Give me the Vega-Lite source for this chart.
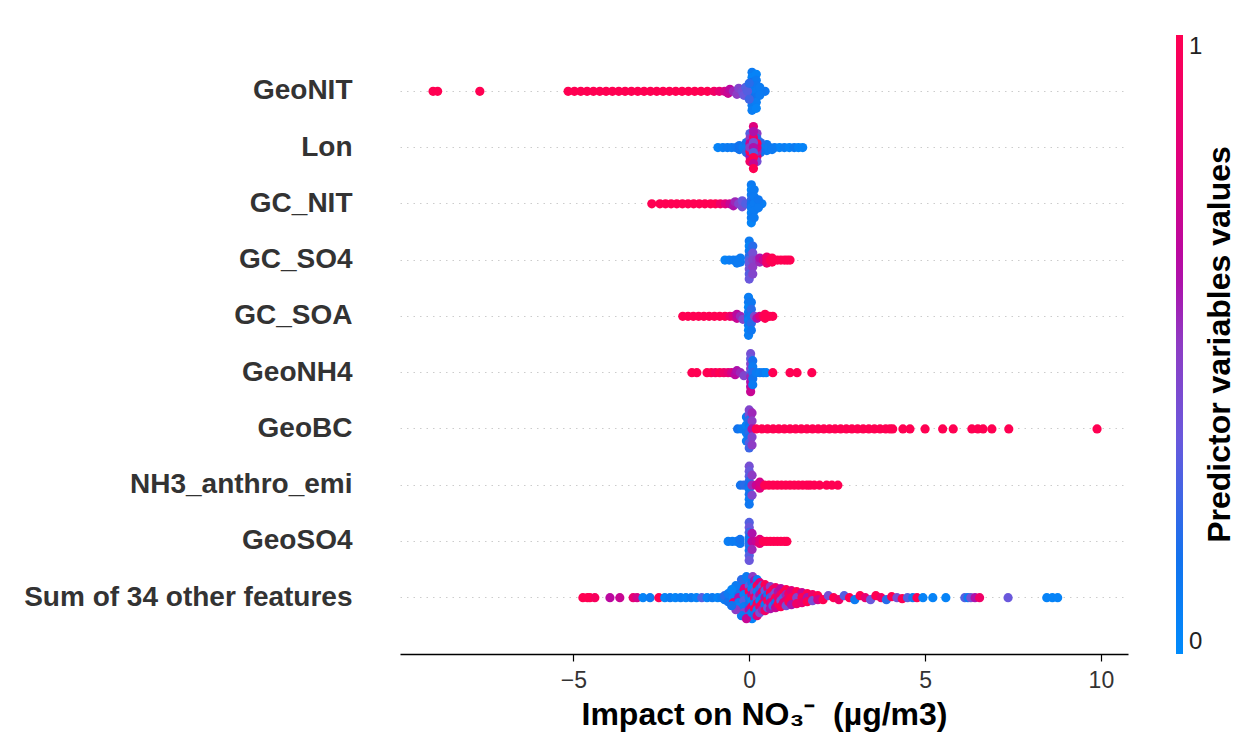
{
 "$schema": "https://vega.github.io/schema/vega-lite/v6.json",
 "width": 728, "height": 619,
 "autosize": {"type": "none"},
 "padding": {"left": 400, "top": 35, "right": 114, "bottom": 95},
 "background": "white",
 "title": {"text": "Predictor variables values", "orient": "right", "angle": -90, "baseline": "top", "anchor": "middle", "frame": "group", "offset": -30, "fontSize": 32, "fontWeight": "bold", "color": "#000000", "font": "Liberation Sans"},
 "config": {
  "font": "Liberation Sans",
  "view": {"stroke": null},
  "axisX": {"domainColor": "#000000", "domainWidth": 1.4, "tickColor": "#000000", "tickSize": 7, "tickWidth": 1.2, "labelFontSize": 23, "labelColor": "#333333", "labelPadding": 8, "titleFontSize": 32, "titleFontWeight": "bold", "titleColor": "#000000", "titlePadding": 7, "grid": false},
  "axisY": {"domain": false, "ticks": false, "labelFontSize": 28, "labelFontWeight": "bold", "labelColor": "#333333", "labelPadding": 48, "labelLimit": 400, "grid": true, "gridColor": "#cccccc", "gridDash": [1.5, 5], "gridWidth": 1, "bandPosition": 0.5}
 },
 "datasets": {
  "features": [
   {"r": 1, "name": "GeoNIT"}, {"r": 2, "name": "Lon"}, {"r": 3, "name": "GC_NIT"}, {"r": 4, "name": "GC_SO4"}, {"r": 5, "name": "GC_SOA"},
   {"r": 6, "name": "GeoNH4"}, {"r": 7, "name": "GeoBC"}, {"r": 8, "name": "NH3_anthro_emi"}, {"r": 9, "name": "GeoSO4"}, {"r": 10, "name": "Sum of 34 other features"}
  ],
  "points": [
   {"r":1,"x":-8.99,"o":0,"c":1},{"r":1,"x":-8.86,"o":0,"c":1},{"r":1,"x":-7.66,"o":0,"c":1},
   {"r":1,"x":-5.15,"o":0,"c":1},{"r":1,"x":-4.97,"o":0,"c":1},{"r":1,"x":-4.79,"o":0,"c":1},{"r":1,"x":-4.61,"o":0,"c":1},{"r":1,"x":-4.43,"o":0,"c":1},{"r":1,"x":-4.25,"o":0,"c":1},{"r":1,"x":-4.07,"o":0,"c":1},{"r":1,"x":-3.89,"o":0,"c":1},{"r":1,"x":-3.71,"o":0,"c":1},{"r":1,"x":-3.53,"o":0,"c":1},{"r":1,"x":-3.35,"o":0,"c":1},{"r":1,"x":-3.17,"o":0,"c":1},{"r":1,"x":-2.99,"o":0,"c":1},{"r":1,"x":-2.81,"o":0,"c":1},{"r":1,"x":-2.63,"o":0,"c":1},{"r":1,"x":-2.45,"o":0,"c":1},{"r":1,"x":-2.27,"o":0,"c":1},{"r":1,"x":-2.09,"o":0,"c":1},{"r":1,"x":-1.91,"o":0,"c":1},{"r":1,"x":-1.73,"o":0,"c":1},{"r":1,"x":-1.55,"o":0,"c":1},{"r":1,"x":-1.37,"o":0,"c":1},{"r":1,"x":-1.19,"o":0,"c":1},
   {"r":1,"x":-1.0,"o":0,"c":0.92},{"r":1,"x":-0.85,"o":0,"c":0.85},{"r":1,"x":-0.7,"o":0,"c":0.75},{"r":1,"x":-0.6,"o":2,"c":0.7},{"r":1,"x":-0.55,"o":-2,"c":0.65},{"r":1,"x":-0.45,"o":0,"c":0.55},{"r":1,"x":-0.35,"o":3,"c":0.5},{"r":1,"x":-0.3,"o":-3,"c":0.45},{"r":1,"x":-0.2,"o":0,"c":0.4},{"r":1,"x":-0.15,"o":4,"c":0.35},{"r":1,"x":-0.1,"o":-4,"c":0.3},
   {"r":1,"x":0.08,"o":-19,"c":0.1},{"r":1,"x":0.08,"o":-14,"c":0.05},{"r":1,"x":0.08,"o":-9,"c":0.15},{"r":1,"x":0.08,"o":-4,"c":0.2},{"r":1,"x":0.08,"o":0,"c":0.1},{"r":1,"x":0.08,"o":4,"c":0.15},{"r":1,"x":0.08,"o":9,"c":0.05},{"r":1,"x":0.08,"o":14,"c":0.1},{"r":1,"x":0.08,"o":19,"c":0.08},
   {"r":1,"x":0.2,"o":-17,"c":0.05},{"r":1,"x":0.2,"o":-11,"c":0.1},{"r":1,"x":0.2,"o":-6,"c":0.12},{"r":1,"x":0.2,"o":0,"c":0.1},{"r":1,"x":0.2,"o":6,"c":0.15},{"r":1,"x":0.2,"o":11,"c":0.08},{"r":1,"x":0.2,"o":17,"c":0.05},
   {"r":1,"x":0.35,"o":0,"c":0.1},{"r":1,"x":0.45,"o":0,"c":0.12},{"r":1,"x":0.3,"o":-4,"c":0.1},{"r":1,"x":0.3,"o":4,"c":0.1},{"r":1,"x":-0.05,"o":0,"c":0.3},{"r":1,"x":0.0,"o":8,"c":0.25},{"r":1,"x":0.0,"o":-8,"c":0.2},

   {"r":2,"x":-0.89,"o":0,"c":0.05},{"r":2,"x":-0.75,"o":0,"c":0.08},{"r":2,"x":-0.62,"o":0,"c":0.1},{"r":2,"x":-0.5,"o":0,"c":0.1},{"r":2,"x":-0.38,"o":0,"c":0.12},{"r":2,"x":-0.28,"o":2,"c":0.15},{"r":2,"x":-0.28,"o":-2,"c":0.15},
   {"r":2,"x":0.45,"o":0,"c":0.1},{"r":2,"x":0.58,"o":0,"c":0.08},{"r":2,"x":0.72,"o":0,"c":0.1},{"r":2,"x":0.86,"o":0,"c":0.05},{"r":2,"x":1.0,"o":0,"c":0.08},{"r":2,"x":1.14,"o":0,"c":0.05},{"r":2,"x":1.28,"o":0,"c":0.1},{"r":2,"x":1.4,"o":0,"c":0.05},{"r":2,"x":1.52,"o":0,"c":0.05},{"r":2,"x":0.5,"o":3,"c":0.1},{"r":2,"x":0.5,"o":-3,"c":0.12},{"r":2,"x":0.65,"o":2,"c":0.1},
   {"r":2,"x":-0.18,"o":0,"c":0.1},{"r":2,"x":0.4,"o":0,"c":0.1},
   {"r":2,"x":-0.08,"o":-5,"c":0.15},{"r":2,"x":-0.08,"o":0,"c":0.1},{"r":2,"x":-0.08,"o":5,"c":0.2},
   {"r":2,"x":0.32,"o":-5,"c":0.2},{"r":2,"x":0.32,"o":0,"c":0.1},{"r":2,"x":0.32,"o":5,"c":0.15},
   {"r":2,"x":0.02,"o":-14,"c":0.3},{"r":2,"x":0.02,"o":-9,"c":0.5},{"r":2,"x":0.02,"o":9,"c":0.6},{"r":2,"x":0.02,"o":14,"c":0.9},
   {"r":2,"x":0.22,"o":-14,"c":0.5},{"r":2,"x":0.22,"o":-9,"c":0.2},{"r":2,"x":0.22,"o":9,"c":0.85},{"r":2,"x":0.22,"o":14,"c":0.4},
   {"r":2,"x":0.02,"o":-4,"c":0.7},{"r":2,"x":0.02,"o":4,"c":1},{"r":2,"x":0.02,"o":0,"c":0.5},
   {"r":2,"x":0.22,"o":-4,"c":1},{"r":2,"x":0.22,"o":4,"c":0.55},{"r":2,"x":0.22,"o":0,"c":0.8},
   {"r":2,"x":0.12,"o":-10,"c":0.9},{"r":2,"x":0.12,"o":-5,"c":0.4},{"r":2,"x":0.12,"o":0,"c":0.6},{"r":2,"x":0.12,"o":5,"c":0.3},{"r":2,"x":0.12,"o":10,"c":1},
   {"r":2,"x":0.12,"o":-21,"c":0.8},{"r":2,"x":0.12,"o":-16,"c":0.6},{"r":2,"x":0.12,"o":16,"c":0.7},{"r":2,"x":0.12,"o":21,"c":1},

   {"r":3,"x":-2.77,"o":0,"c":1},
   {"r":3,"x":-2.54,"o":0,"c":1},{"r":3,"x":-2.38,"o":0,"c":1},{"r":3,"x":-2.22,"o":0,"c":1},{"r":3,"x":-2.06,"o":0,"c":1},{"r":3,"x":-1.9,"o":0,"c":1},{"r":3,"x":-1.74,"o":0,"c":1},{"r":3,"x":-1.58,"o":0,"c":1},{"r":3,"x":-1.42,"o":0,"c":1},{"r":3,"x":-1.26,"o":0,"c":1},{"r":3,"x":-1.1,"o":0,"c":1},{"r":3,"x":-0.96,"o":0,"c":1},
   {"r":3,"x":-0.82,"o":0,"c":0.9},{"r":3,"x":-0.68,"o":0,"c":0.8},{"r":3,"x":-0.55,"o":0,"c":0.7},{"r":3,"x":-0.45,"o":2,"c":0.6},{"r":3,"x":-0.4,"o":-2,"c":0.55},{"r":3,"x":-0.3,"o":0,"c":0.45},{"r":3,"x":-0.2,"o":3,"c":0.4},{"r":3,"x":-0.2,"o":-3,"c":0.35},{"r":3,"x":-0.1,"o":0,"c":0.3},
   {"r":3,"x":0.06,"o":-19,"c":0.1},{"r":3,"x":0.06,"o":-14,"c":0.05},{"r":3,"x":0.06,"o":-9,"c":0.1},{"r":3,"x":0.06,"o":-4,"c":0.2},{"r":3,"x":0.06,"o":0,"c":0.15},{"r":3,"x":0.06,"o":4,"c":0.1},{"r":3,"x":0.06,"o":9,"c":0.05},{"r":3,"x":0.06,"o":14,"c":0.1},{"r":3,"x":0.06,"o":19,"c":0.05},
   {"r":3,"x":0.14,"o":-14,"c":0.1},{"r":3,"x":0.14,"o":-7,"c":0.1},{"r":3,"x":0.14,"o":0,"c":0.1},{"r":3,"x":0.14,"o":7,"c":0.1},{"r":3,"x":0.14,"o":14,"c":0.1},
   {"r":3,"x":0.28,"o":0,"c":0.1},{"r":3,"x":0.36,"o":0,"c":0.08},{"r":3,"x":0.26,"o":-4,"c":0.12},{"r":3,"x":0.26,"o":4,"c":0.1},

   {"r":4,"x":-0.69,"o":0,"c":0.05},{"r":4,"x":-0.57,"o":0,"c":0.08},{"r":4,"x":-0.45,"o":0,"c":0.1},{"r":4,"x":-0.35,"o":0,"c":0.1},{"r":4,"x":-0.25,"o":2,"c":0.12},{"r":4,"x":-0.25,"o":-2,"c":0.1},{"r":4,"x":-0.35,"o":3,"c":0.1},
   {"r":4,"x":0.0,"o":-19,"c":0.1},{"r":4,"x":0.0,"o":-14,"c":0.05},{"r":4,"x":0.0,"o":-9,"c":0.1},{"r":4,"x":0.0,"o":-4,"c":0.2},{"r":4,"x":0.0,"o":0,"c":0.3},{"r":4,"x":0.0,"o":4,"c":0.35},{"r":4,"x":0.0,"o":9,"c":0.4},{"r":4,"x":0.0,"o":14,"c":0.3},{"r":4,"x":0.0,"o":19,"c":0.35},
   {"r":4,"x":0.1,"o":-14,"c":0.2},{"r":4,"x":0.1,"o":-7,"c":0.4},{"r":4,"x":0.1,"o":0,"c":0.45},{"r":4,"x":0.1,"o":7,"c":0.5},{"r":4,"x":0.1,"o":14,"c":0.45},
   {"r":4,"x":0.22,"o":0,"c":0.5},{"r":4,"x":0.3,"o":2,"c":0.55},{"r":4,"x":0.3,"o":-2,"c":0.6},{"r":4,"x":0.4,"o":0,"c":0.7},{"r":4,"x":0.5,"o":0,"c":0.85},{"r":4,"x":0.5,"o":3,"c":0.9},{"r":4,"x":0.5,"o":-3,"c":0.9},{"r":4,"x":0.6,"o":0,"c":1},{"r":4,"x":0.7,"o":0,"c":1},{"r":4,"x":0.8,"o":0,"c":1},{"r":4,"x":0.9,"o":0,"c":1},{"r":4,"x":1.0,"o":0,"c":1},{"r":4,"x":1.08,"o":0,"c":1},{"r":4,"x":1.16,"o":0,"c":1},{"r":4,"x":0.65,"o":2,"c":1},{"r":4,"x":0.65,"o":-2,"c":1},

   {"r":5,"x":-1.89,"o":0,"c":1},{"r":5,"x":-1.74,"o":0,"c":1},{"r":5,"x":-1.59,"o":0,"c":1},{"r":5,"x":-1.44,"o":0,"c":1},{"r":5,"x":-1.29,"o":0,"c":1},{"r":5,"x":-1.14,"o":0,"c":1},{"r":5,"x":-0.99,"o":0,"c":1},{"r":5,"x":-0.84,"o":0,"c":1},{"r":5,"x":-0.69,"o":0,"c":1},
   {"r":5,"x":-0.55,"o":0,"c":0.9},{"r":5,"x":-0.45,"o":0,"c":0.8},{"r":5,"x":-0.35,"o":2,"c":0.7},{"r":5,"x":-0.35,"o":-2,"c":0.65},{"r":5,"x":-0.25,"o":0,"c":0.55},{"r":5,"x":-0.18,"o":3,"c":0.45},
   {"r":5,"x":-0.02,"o":-19,"c":0.08},{"r":5,"x":-0.02,"o":-14,"c":0.1},{"r":5,"x":-0.02,"o":-9,"c":0.05},{"r":5,"x":-0.02,"o":-4,"c":0.1},{"r":5,"x":-0.02,"o":0,"c":0.15},{"r":5,"x":-0.02,"o":4,"c":0.08},{"r":5,"x":-0.02,"o":9,"c":0.1},{"r":5,"x":-0.02,"o":14,"c":0.05},{"r":5,"x":-0.02,"o":19,"c":0.08},
   {"r":5,"x":0.06,"o":-14,"c":0.12},{"r":5,"x":0.06,"o":-7,"c":0.2},{"r":5,"x":0.06,"o":0,"c":0.12},{"r":5,"x":0.06,"o":7,"c":0.2},{"r":5,"x":0.06,"o":14,"c":0.12},
   {"r":5,"x":0.15,"o":0,"c":0.45},{"r":5,"x":0.22,"o":2,"c":0.6},{"r":5,"x":0.3,"o":0,"c":0.8},{"r":5,"x":0.4,"o":0,"c":0.95},{"r":5,"x":0.5,"o":0,"c":1},{"r":5,"x":0.58,"o":0,"c":1},{"r":5,"x":0.67,"o":0,"c":1},{"r":5,"x":0.45,"o":2,"c":1},{"r":5,"x":0.45,"o":-2,"c":1},

   {"r":6,"x":-1.63,"o":0,"c":1},{"r":6,"x":-1.49,"o":0,"c":1},{"r":6,"x":-1.2,"o":0,"c":1},{"r":6,"x":-1.08,"o":0,"c":1},{"r":6,"x":-0.96,"o":0,"c":0.95},{"r":6,"x":-0.84,"o":0,"c":1},{"r":6,"x":-0.72,"o":0,"c":0.9},{"r":6,"x":-0.6,"o":0,"c":0.85},{"r":6,"x":-0.5,"o":0,"c":0.75},{"r":6,"x":-0.4,"o":2,"c":0.65},{"r":6,"x":-0.35,"o":-2,"c":0.6},{"r":6,"x":-0.25,"o":0,"c":0.55},{"r":6,"x":-0.15,"o":3,"c":0.45},
   {"r":6,"x":0.04,"o":-19,"c":0.4},{"r":6,"x":0.04,"o":-14,"c":0.35},{"r":6,"x":0.04,"o":-9,"c":0.45},{"r":6,"x":0.04,"o":-4,"c":0.5},{"r":6,"x":0.04,"o":0,"c":0.3},{"r":6,"x":0.04,"o":4,"c":0.55},{"r":6,"x":0.04,"o":9,"c":0.6},{"r":6,"x":0.04,"o":14,"c":0.65},{"r":6,"x":0.04,"o":19,"c":0.7},
   {"r":6,"x":0.1,"o":-12,"c":0.15},{"r":6,"x":0.1,"o":-6,"c":0.1},{"r":6,"x":0.1,"o":0,"c":0.2},{"r":6,"x":0.1,"o":6,"c":0.15},{"r":6,"x":0.1,"o":12,"c":0.1},
   {"r":6,"x":0.2,"o":0,"c":0.1},{"r":6,"x":0.3,"o":0,"c":0.08},{"r":6,"x":0.4,"o":0,"c":0.1},{"r":6,"x":0.48,"o":0,"c":0.05},{"r":6,"x":0.67,"o":0,"c":1},{"r":6,"x":1.16,"o":0,"c":1},{"r":6,"x":1.36,"o":0,"c":1},{"r":6,"x":1.78,"o":0,"c":1},

   {"r":7,"x":-0.33,"o":0,"c":0.15},{"r":7,"x":-0.22,"o":0,"c":0.1},
   {"r":7,"x":-0.08,"o":-12,"c":0.1},{"r":7,"x":-0.08,"o":-4,"c":0.05},{"r":7,"x":-0.08,"o":4,"c":0.1},{"r":7,"x":-0.08,"o":12,"c":0.08},
   {"r":7,"x":0.0,"o":-19,"c":0.45},{"r":7,"x":0.0,"o":-14,"c":0.4},{"r":7,"x":0.0,"o":-9,"c":0.2},{"r":7,"x":0.0,"o":-4,"c":0.15},{"r":7,"x":0.0,"o":0,"c":0.1},{"r":7,"x":0.0,"o":4,"c":0.2},{"r":7,"x":0.0,"o":9,"c":0.15},{"r":7,"x":0.0,"o":14,"c":0.3},{"r":7,"x":0.0,"o":19,"c":0.25},
   {"r":7,"x":0.08,"o":-16,"c":0.55},{"r":7,"x":0.08,"o":-8,"c":0.5},{"r":7,"x":0.08,"o":0,"c":0.6},{"r":7,"x":0.08,"o":8,"c":0.45},{"r":7,"x":0.08,"o":16,"c":0.5},
   {"r":7,"x":0.2,"o":0,"c":1},{"r":7,"x":0.36,"o":0,"c":1},{"r":7,"x":0.52,"o":0,"c":1},{"r":7,"x":0.68,"o":0,"c":1},{"r":7,"x":0.84,"o":0,"c":1},{"r":7,"x":1.0,"o":0,"c":1},{"r":7,"x":1.16,"o":0,"c":1},{"r":7,"x":1.32,"o":0,"c":1},{"r":7,"x":1.48,"o":0,"c":1},{"r":7,"x":1.64,"o":0,"c":1},{"r":7,"x":1.8,"o":0,"c":1},{"r":7,"x":1.96,"o":0,"c":1},{"r":7,"x":2.12,"o":0,"c":1},{"r":7,"x":2.28,"o":0,"c":1},{"r":7,"x":2.44,"o":0,"c":1},{"r":7,"x":2.6,"o":0,"c":1},{"r":7,"x":2.76,"o":0,"c":1},{"r":7,"x":2.92,"o":0,"c":1},{"r":7,"x":3.08,"o":0,"c":1},{"r":7,"x":3.24,"o":0,"c":1},{"r":7,"x":3.4,"o":0,"c":1},{"r":7,"x":3.56,"o":0,"c":1},{"r":7,"x":3.72,"o":0,"c":1},{"r":7,"x":3.88,"o":0,"c":1},{"r":7,"x":4.0,"o":0,"c":1},{"r":7,"x":4.08,"o":0,"c":1},
   {"r":7,"x":4.37,"o":0,"c":1},{"r":7,"x":4.57,"o":0,"c":1},{"r":7,"x":5.0,"o":0,"c":1},{"r":7,"x":5.5,"o":0,"c":1},{"r":7,"x":5.8,"o":0,"c":1},{"r":7,"x":6.33,"o":0,"c":1},{"r":7,"x":6.5,"o":0,"c":1},{"r":7,"x":6.65,"o":0,"c":1},{"r":7,"x":6.9,"o":0,"c":1},{"r":7,"x":7.38,"o":0,"c":1},{"r":7,"x":9.89,"o":0,"c":1},

   {"r":8,"x":-0.25,"o":0,"c":0.15},{"r":8,"x":-0.15,"o":0,"c":0.2},
   {"r":8,"x":0.0,"o":-19,"c":0.4},{"r":8,"x":0.0,"o":-14,"c":0.35},{"r":8,"x":0.0,"o":-9,"c":0.3},{"r":8,"x":0.0,"o":-4,"c":0.2},{"r":8,"x":0.0,"o":0,"c":0.15},{"r":8,"x":0.0,"o":4,"c":0.1},{"r":8,"x":0.0,"o":9,"c":0.15},{"r":8,"x":0.0,"o":14,"c":0.1},{"r":8,"x":0.0,"o":19,"c":0.12},
   {"r":8,"x":0.08,"o":-10,"c":0.5},{"r":8,"x":0.08,"o":0,"c":0.55},{"r":8,"x":0.08,"o":10,"c":0.45},
   {"r":8,"x":0.2,"o":0,"c":0.7},{"r":8,"x":0.32,"o":0,"c":0.85},{"r":8,"x":0.3,"o":3,"c":0.8},{"r":8,"x":0.3,"o":-3,"c":0.75},
   {"r":8,"x":0.44,"o":0,"c":1},{"r":8,"x":0.56,"o":0,"c":1},{"r":8,"x":0.68,"o":0,"c":1},{"r":8,"x":0.8,"o":0,"c":1},{"r":8,"x":0.92,"o":0,"c":1},{"r":8,"x":1.04,"o":0,"c":1},{"r":8,"x":1.16,"o":0,"c":1},{"r":8,"x":1.28,"o":0,"c":1},{"r":8,"x":1.4,"o":0,"c":1},{"r":8,"x":1.52,"o":0,"c":1},{"r":8,"x":1.64,"o":0,"c":1},
   {"r":8,"x":1.73,"o":0,"c":1},{"r":8,"x":1.85,"o":0,"c":1},{"r":8,"x":2.0,"o":0,"c":1},{"r":8,"x":2.2,"o":0,"c":1},{"r":8,"x":2.35,"o":0,"c":1},{"r":8,"x":2.52,"o":0,"c":1},

   {"r":9,"x":-0.6,"o":0,"c":0.08},{"r":9,"x":-0.48,"o":0,"c":0.1},{"r":9,"x":-0.36,"o":0,"c":0.1},{"r":9,"x":-0.26,"o":2,"c":0.12},{"r":9,"x":-0.26,"o":-2,"c":0.15},
   {"r":9,"x":0.0,"o":-19,"c":0.3},{"r":9,"x":0.0,"o":-14,"c":0.35},{"r":9,"x":0.0,"o":-9,"c":0.25},{"r":9,"x":0.0,"o":-4,"c":0.15},{"r":9,"x":0.0,"o":0,"c":0.1},{"r":9,"x":0.0,"o":4,"c":0.2},{"r":9,"x":0.0,"o":9,"c":0.15},{"r":9,"x":0.0,"o":14,"c":0.3},{"r":9,"x":0.0,"o":19,"c":0.35},
   {"r":9,"x":0.08,"o":-8,"c":0.6},{"r":9,"x":0.08,"o":0,"c":0.65},{"r":9,"x":0.08,"o":8,"c":0.55},
   {"r":9,"x":0.2,"o":0,"c":0.7},{"r":9,"x":0.3,"o":2,"c":0.85},{"r":9,"x":0.3,"o":-2,"c":0.8},{"r":9,"x":0.4,"o":0,"c":1},{"r":9,"x":0.5,"o":0,"c":1},{"r":9,"x":0.6,"o":0,"c":1},{"r":9,"x":0.7,"o":0,"c":1},{"r":9,"x":0.8,"o":0,"c":1},{"r":9,"x":0.9,"o":0,"c":1},{"r":9,"x":1.0,"o":0,"c":1},{"r":9,"x":1.07,"o":0,"c":1},

   {"r":10,"x":-4.73,"o":0,"c":1},{"r":10,"x":-4.6,"o":0,"c":1},{"r":10,"x":-4.53,"o":0,"c":1},{"r":10,"x":-4.39,"o":0,"c":0.95},{"r":10,"x":-3.96,"o":0,"c":0.65},{"r":10,"x":-3.68,"o":0,"c":0.7},{"r":10,"x":-3.3,"o":0,"c":0.85},{"r":10,"x":-3.19,"o":0,"c":0.75},{"r":10,"x":-3.02,"o":0,"c":0.05},{"r":10,"x":-2.82,"o":0,"c":0.1},{"r":10,"x":-2.57,"o":0,"c":1},
   {"r":10,"x":-2.4,"o":0,"c":0.05},{"r":10,"x":-2.25,"o":0,"c":0.1},{"r":10,"x":-2.1,"o":0,"c":0.05},{"r":10,"x":-1.95,"o":0,"c":0.08},{"r":10,"x":-1.8,"o":0,"c":0.05},{"r":10,"x":-1.65,"o":0,"c":0.1},{"r":10,"x":-1.5,"o":0,"c":0.05},{"r":10,"x":-1.35,"o":0,"c":0.3},{"r":10,"x":-1.2,"o":0,"c":0.05},{"r":10,"x":-1.05,"o":0,"c":0.1},{"r":10,"x":-0.9,"o":0,"c":0.05},{"r":10,"x":-0.78,"o":0,"c":0.1},
   {"r":10,"x":-0.7,"o":2,"c":0.1},{"r":10,"x":-0.7,"o":-2,"c":0.2},{"r":10,"x":-0.6,"o":4,"c":0.15},{"r":10,"x":-0.6,"o":-4,"c":0.1},
   {"r":10,"x":-0.45,"o":-5,"c":0.1},{"r":10,"x":-0.45,"o":0,"c":0.05},{"r":10,"x":-0.45,"o":5,"c":0.9},
   {"r":10,"x":-0.3,"o":-10,"c":0.05},{"r":10,"x":-0.3,"o":-5,"c":0.15},{"r":10,"x":-0.3,"o":0,"c":0.6},{"r":10,"x":-0.3,"o":5,"c":0.1},{"r":10,"x":-0.3,"o":10,"c":0.05},
   {"r":10,"x":-0.15,"o":-15,"c":0.1},{"r":10,"x":-0.15,"o":-9,"c":0.8},{"r":10,"x":-0.15,"o":-3,"c":0.05},{"r":10,"x":-0.15,"o":3,"c":0.3},{"r":10,"x":-0.15,"o":9,"c":0.1},{"r":10,"x":-0.15,"o":15,"c":0.45},
   {"r":10,"x":-0.22,"o":-18,"c":0.2},{"r":10,"x":-0.22,"o":18,"c":0.1},{"r":10,"x":-0.38,"o":-12,"c":0.1},{"r":10,"x":-0.38,"o":12,"c":0.5},{"r":10,"x":-0.5,"o":-8,"c":0.05},{"r":10,"x":-0.5,"o":8,"c":0.15},
   {"r":10,"x":0.0,"o":-18,"c":0.05},{"r":10,"x":0.0,"o":-12,"c":0.3},{"r":10,"x":0.0,"o":-6,"c":1},{"r":10,"x":0.0,"o":0,"c":0.1},{"r":10,"x":0.0,"o":6,"c":0.15},{"r":10,"x":0.0,"o":12,"c":0.6},{"r":10,"x":0.0,"o":18,"c":0.2},
   {"r":10,"x":-0.08,"o":-21,"c":0.1},{"r":10,"x":0.08,"o":21,"c":0.05},{"r":10,"x":0.1,"o":-21,"c":0.5},{"r":10,"x":-0.08,"o":21,"c":0.7},
   {"r":10,"x":0.075,"o":-15,"c":0.15},{"r":10,"x":0.075,"o":-9,"c":0.05},{"r":10,"x":0.075,"o":-3,"c":0.7},{"r":10,"x":0.075,"o":3,"c":0.05},{"r":10,"x":0.075,"o":9,"c":0.9},{"r":10,"x":0.075,"o":15,"c":0.1},
   {"r":10,"x":0.15,"o":-17,"c":0.6},{"r":10,"x":0.15,"o":-11,"c":0.05},{"r":10,"x":0.15,"o":-6,"c":0.45},{"r":10,"x":0.15,"o":0,"c":0.9},{"r":10,"x":0.15,"o":6,"c":0.1},{"r":10,"x":0.15,"o":11,"c":1},{"r":10,"x":0.15,"o":17,"c":0.15},
   {"r":10,"x":0.225,"o":-18,"c":0.1},{"r":10,"x":0.225,"o":-12,"c":1},{"r":10,"x":0.225,"o":-6,"c":0.05},{"r":10,"x":0.225,"o":0,"c":0.4},{"r":10,"x":0.225,"o":6,"c":0.95},{"r":10,"x":0.225,"o":12,"c":0.1},{"r":10,"x":0.225,"o":18,"c":0.8},
   {"r":10,"x":0.3,"o":-15,"c":0.8},{"r":10,"x":0.3,"o":-9,"c":0.2},{"r":10,"x":0.3,"o":-3,"c":0.6},{"r":10,"x":0.3,"o":3,"c":0.05},{"r":10,"x":0.3,"o":9,"c":0.85},{"r":10,"x":0.3,"o":15,"c":0.4},
   {"r":10,"x":0.375,"o":-12,"c":0.3},{"r":10,"x":0.375,"o":-6,"c":0.9},{"r":10,"x":0.375,"o":0,"c":0.1},{"r":10,"x":0.375,"o":6,"c":1},{"r":10,"x":0.375,"o":12,"c":0.55},
   {"r":10,"x":0.45,"o":-13,"c":1},{"r":10,"x":0.45,"o":-7,"c":0.3},{"r":10,"x":0.45,"o":0,"c":0.7},{"r":10,"x":0.45,"o":7,"c":0.1},{"r":10,"x":0.45,"o":13,"c":0.9},
   {"r":10,"x":0.525,"o":-10,"c":0.85},{"r":10,"x":0.525,"o":-3,"c":0.15},{"r":10,"x":0.525,"o":3,"c":1},{"r":10,"x":0.525,"o":10,"c":0.35},
   {"r":10,"x":0.6,"o":-11,"c":0.5},{"r":10,"x":0.6,"o":-5,"c":1},{"r":10,"x":0.6,"o":0,"c":0.2},{"r":10,"x":0.6,"o":5,"c":0.8},{"r":10,"x":0.6,"o":11,"c":0.6},
   {"r":10,"x":0.675,"o":-8,"c":1},{"r":10,"x":0.675,"o":-2,"c":0.5},{"r":10,"x":0.675,"o":4,"c":0.9},{"r":10,"x":0.675,"o":8,"c":0.25},
   {"r":10,"x":0.75,"o":-10,"c":0.9},{"r":10,"x":0.75,"o":-5,"c":0.4},{"r":10,"x":0.75,"o":0,"c":1},{"r":10,"x":0.75,"o":5,"c":0.15},{"r":10,"x":0.75,"o":10,"c":0.7},
   {"r":10,"x":0.825,"o":-6,"c":0.6},{"r":10,"x":0.825,"o":0,"c":0.85},{"r":10,"x":0.825,"o":6,"c":1},
   {"r":10,"x":0.9,"o":-9,"c":0.65},{"r":10,"x":0.9,"o":-3,"c":0.9},{"r":10,"x":0.9,"o":3,"c":0.35},{"r":10,"x":0.9,"o":9,"c":1},
   {"r":10,"x":0.975,"o":-5,"c":1},{"r":10,"x":0.975,"o":0,"c":0.3},{"r":10,"x":0.975,"o":5,"c":0.8},
   {"r":10,"x":1.05,"o":-8,"c":1},{"r":10,"x":1.05,"o":-3,"c":0.55},{"r":10,"x":1.05,"o":3,"c":0.85},{"r":10,"x":1.05,"o":8,"c":0.4},
   {"r":10,"x":1.125,"o":-4,"c":0.9},{"r":10,"x":1.125,"o":4,"c":1},
   {"r":10,"x":1.2,"o":-7,"c":0.8},{"r":10,"x":1.2,"o":0,"c":1},{"r":10,"x":1.2,"o":7,"c":0.6},
   {"r":10,"x":1.35,"o":-6,"c":1},{"r":10,"x":1.35,"o":0,"c":0.45},{"r":10,"x":1.35,"o":6,"c":0.9},
   {"r":10,"x":1.5,"o":-5,"c":0.7},{"r":10,"x":1.5,"o":0,"c":1},{"r":10,"x":1.5,"o":5,"c":0.85},
   {"r":10,"x":1.65,"o":-4,"c":1},{"r":10,"x":1.65,"o":0,"c":0.6},{"r":10,"x":1.65,"o":4,"c":1},
   {"r":10,"x":1.8,"o":-3,"c":0.9},{"r":10,"x":1.8,"o":3,"c":0.4},
   {"r":10,"x":1.95,"o":-2,"c":1},{"r":10,"x":1.95,"o":2,"c":0.75},
   {"r":10,"x":2.1,"o":2,"c":1},{"r":10,"x":2.25,"o":-2,"c":0.4},{"r":10,"x":2.4,"o":0,"c":1},{"r":10,"x":2.55,"o":2,"c":0.9},{"r":10,"x":2.7,"o":-2,"c":0.3},{"r":10,"x":2.85,"o":0,"c":1},{"r":10,"x":3.0,"o":2,"c":0.1},{"r":10,"x":3.15,"o":-2,"c":1},{"r":10,"x":3.3,"o":0,"c":0.85},{"r":10,"x":3.45,"o":2,"c":0.35},{"r":10,"x":3.6,"o":-2,"c":1},{"r":10,"x":3.75,"o":0,"c":0.9},{"r":10,"x":3.9,"o":2,"c":0.2},{"r":10,"x":4.05,"o":-1,"c":1},{"r":10,"x":4.2,"o":0,"c":0.4},{"r":10,"x":4.35,"o":1,"c":1},{"r":10,"x":4.5,"o":0,"c":0.3},{"r":10,"x":4.65,"o":0,"c":0.1},{"r":10,"x":4.77,"o":0,"c":1},
   {"r":10,"x":4.94,"o":0,"c":0.05},{"r":10,"x":5.22,"o":0,"c":0.05},{"r":10,"x":5.59,"o":0,"c":0.05},{"r":10,"x":6.13,"o":0,"c":0.3},{"r":10,"x":6.22,"o":0,"c":0.1},{"r":10,"x":6.3,"o":0,"c":0.4},{"r":10,"x":6.42,"o":0,"c":0.6},{"r":10,"x":6.55,"o":0,"c":0.9},{"r":10,"x":7.36,"o":0,"c":0.35},{"r":10,"x":8.46,"o":0,"c":0.05},{"r":10,"x":8.62,"o":0,"c":0.05},{"r":10,"x":8.77,"o":0,"c":0.05}
  ]
 },
 "layer": [
  {
   "mark": {"type": "rule", "color": "#999999", "strokeWidth": 2},
   "encoding": {
    "x": {"datum": 0, "type": "quantitative", "scale": {"domain": [-9.93, 10.77], "nice": false, "zero": false}, "axis": {"values": [-5, 0, 5, 10], "title": "Impact on NO₃⁻\u00a0\u00a0(µg/m3)"}}
   }
  },
  {
   "data": {"name": "points"},
   "transform": [{"lookup": "r", "from": {"data": {"name": "features"}, "key": "r", "fields": ["name"]}}],
   "mark": {"type": "circle", "size": 85, "opacity": 1},
   "encoding": {
    "x": {"field": "x", "type": "quantitative", "scale": {"domain": [-9.93, 10.77], "nice": false, "zero": false}, "axis": {"values": [-5, 0, 5, 10], "title": "Impact on NO₃⁻\u00a0\u00a0(µg/m3)"}},
    "y": {"field": "name", "type": "nominal", "sort": ["GeoNIT", "Lon", "GC_NIT", "GC_SO4", "GC_SOA", "GeoNH4", "GeoBC", "NH3_anthro_emi", "GeoSO4", "Sum of 34 other features"], "scale": {"paddingInner": 0, "paddingOuter": 0.5}, "axis": {"title": null}},
    "yOffset": {"field": "o", "type": "quantitative", "scale": {"domain": [-28.14, 28.14]}},
    "color": {
     "field": "c", "type": "quantitative",
     "scale": {"domain": [0, 0.15, 0.35, 0.5, 0.62, 0.8, 1], "range": ["#008bfb", "#1273ee", "#6a58dc", "#8e3cc4", "#b30aa6", "#e0007c", "#ff0052"], "interpolate": "rgb"},
     "legend": {"values": [0, 1], "format": "d", "title": null, "gradientLength": 619, "gradientThickness": 7, "gradientStrokeWidth": 0, "labelFontSize": 24, "labelColor": "#222222", "labelOffset": 6, "offset": 48, "padding": 0}
    }
   }
  }
 ]
}
